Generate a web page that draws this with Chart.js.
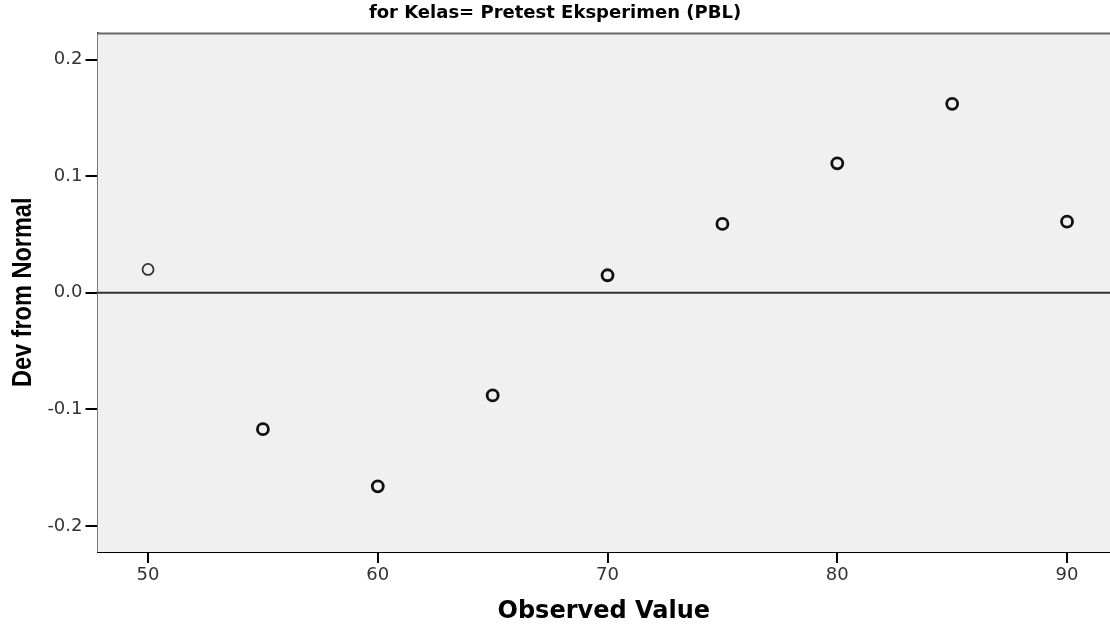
<!DOCTYPE html>
<html>
<head>
<meta charset="utf-8">
<script src="https://cdn.jsdelivr.net/npm/chart.js@4.4.1/dist/chart.umd.min.js"></script>
<style>
  html, body { margin: 0; padding: 0; background: #fff; }
  #wrap { width: 1110px; height: 626px; }
</style>
</head>
<body>
<div id="wrap"><canvas id="chart" width="1110" height="626"></canvas></div>
<script>
// observed values and their deviation from normal
var observed = [50, 55, 60, 65, 70, 75, 80, 85, 90];
var devFromNormal = [0.020, -0.117, -0.166, -0.088, 0.015, 0.059, 0.111, 0.162, 0.061];

var xTicks = [50, 60, 70, 80, 90];
var yTicks = [-0.2, -0.1, 0.0, 0.1, 0.2];
var refLineValue = 0;
var yTitle = 'Dev from Normal';

var points = observed.map((v, i) => ({ x: v, y: devFromNormal[i] }));

// plot background, top frame and the zero reference line
var plotDecor = {
  id: 'plotDecor',
  beforeDatasetsDraw(chart) {
    var a = chart.chartArea, ctx = chart.ctx;
    ctx.save();
    ctx.fillStyle = '#f0f0f0';
    ctx.fillRect(a.left, a.top, a.right - a.left, a.bottom - a.top);
    ctx.strokeStyle = '#6a6a6a';
    ctx.lineWidth = 2;
    ctx.beginPath();
    ctx.moveTo(a.left, a.top + 1);
    ctx.lineTo(a.right, a.top + 1);
    ctx.stroke();
    var y0 = chart.scales.y.getPixelForValue(refLineValue);
    ctx.strokeStyle = '#333';
    ctx.lineWidth = 2;
    ctx.beginPath();
    ctx.moveTo(a.left, y0);
    ctx.lineTo(a.right, y0);
    ctx.stroke();
    ctx.restore();
  },
  // y title in a narrow bold face (squeezed along the text)
  afterDraw(chart) {
    var a = chart.chartArea, ctx = chart.ctx;
    ctx.save();
    ctx.translate(23, (a.top + a.bottom) / 2);
    ctx.rotate(-Math.PI / 2);
    ctx.scale(0.84, 1);
    ctx.font = "bold 28px 'Liberation Sans', Arial, sans-serif";
    ctx.fillStyle = '#000';
    ctx.textAlign = 'center';
    ctx.textBaseline = 'middle';
    ctx.fillText(yTitle, 0, 0);
    ctx.restore();
  }
};

new Chart(document.getElementById('chart'), {
  type: 'scatter',
  data: {
    datasets: [{
      data: points,
      pointStyle: 'circle',
      pointRadius: 5.5,
      pointHoverRadius: 5.5,
      pointBorderWidth: observed.map((v, i) => i === 0 ? 1.8 : 2.8),
      pointBorderColor: observed.map((v, i) => i === 0 ? '#333' : '#111'),
      pointBackgroundColor: 'rgba(0,0,0,0)'
    }]
  },
  options: {
    responsive: false,
    animation: false,
    layout: { padding: { left: 0, right: 0, top: 0, bottom: 0 }, autoPadding: false },
    plugins: {
      legend: { display: false },
      tooltip: { enabled: false },
      title: {
        display: true,
        text: 'for Kelas= Pretest Eksperimen (PBL)',
        color: '#000',
        font: { family: "'DejaVu Sans', sans-serif", size: 18, weight: 'bold' },
        padding: { top: 3, bottom: 8 }
      }
    },
    scales: {
      x: {
        type: 'linear',
        min: 47.8,
        max: 91.87,
        afterBuildTicks: s => { s.ticks = xTicks.map(v => ({ value: v })); },
        afterFit: s => { s.height = 74; },
        border: { display: true, color: '#000', width: 2 },
        grid: { drawOnChartArea: false, color: '#000', lineWidth: 2, tickLength: 11 },
        ticks: {
          color: '#333',
          padding: 2,
          font: { family: "'DejaVu Sans', sans-serif", size: 18 }
        },
        title: {
          display: true,
          text: 'Observed Value',
          color: '#000',
          font: { family: "'DejaVu Sans', sans-serif", size: 24, weight: 'bold' },
          padding: { top: 0, bottom: 0 }
        }
      },
      y: {
        type: 'linear',
        min: -0.2223,
        max: 0.2231,
        afterBuildTicks: s => { s.ticks = yTicks.map(v => ({ value: v })); },
        afterFit: s => { s.width = 97.5; },
        border: { display: true, color: '#000', width: 2 },
        grid: { drawOnChartArea: false, color: '#000', lineWidth: 2, tickLength: 12 },
        ticks: {
          color: '#333',
          padding: 3,
          font: { family: "'DejaVu Sans', sans-serif", size: 18 },
          callback: v => v.toFixed(1)
        },
        title: { display: false }
      }
    }
  },
  plugins: [plotDecor]
});
</script>
</body>
</html>
